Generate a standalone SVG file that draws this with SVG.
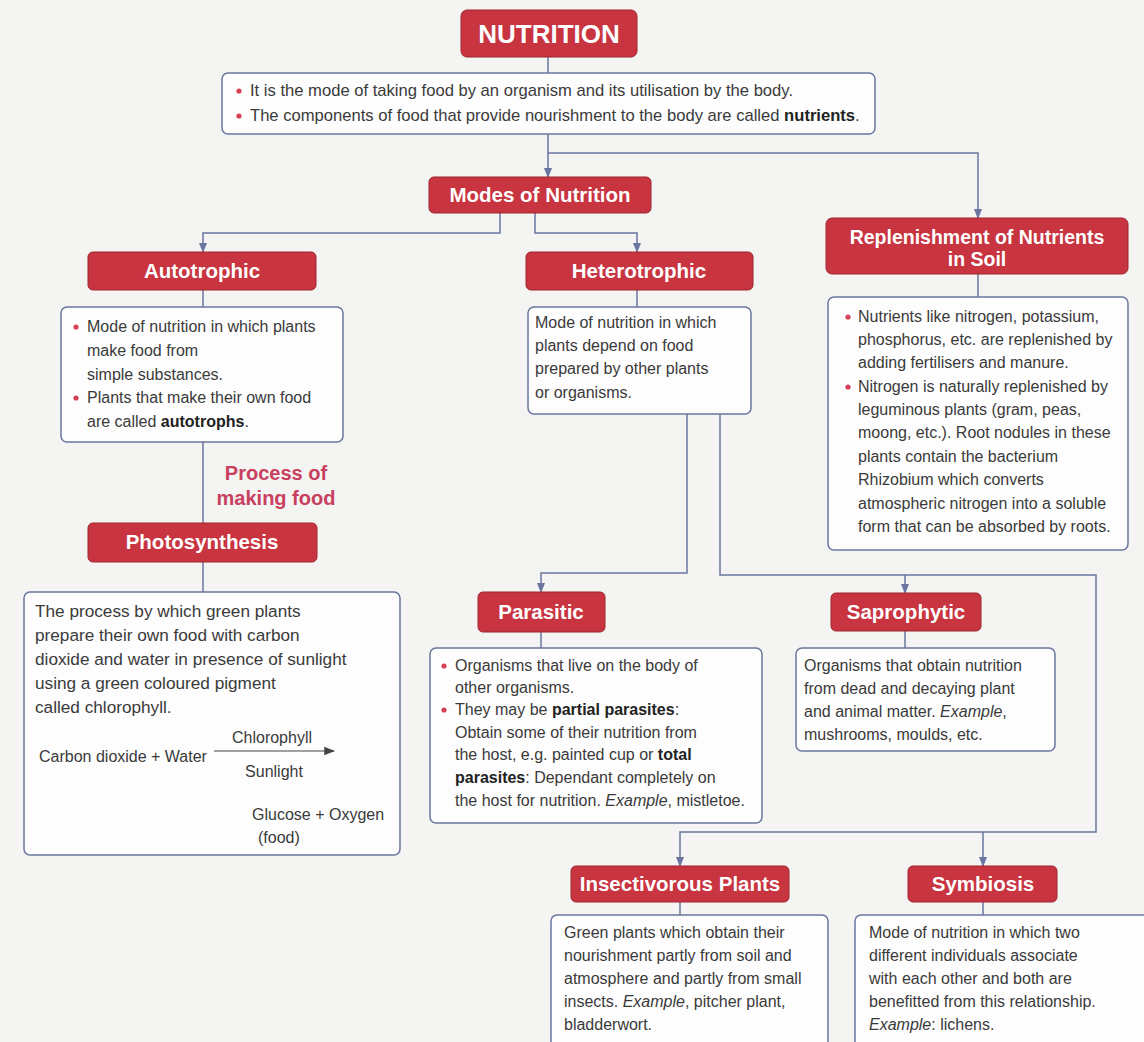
<svg xmlns="http://www.w3.org/2000/svg" width="1144" height="1042" viewBox="0 0 1144 1042">
<defs>
<style>
.hd{fill:#c8343f;stroke:#9e2630;stroke-width:1}
.ht{font-family:"Liberation Sans",Arial,sans-serif;font-weight:bold;fill:#fff;font-size:20.5px;text-anchor:middle}
.bx{fill:#fdfdfd;stroke:#6b76a0;stroke-width:1.5}
.t{font-family:"Liberation Sans",Arial,sans-serif;font-size:16px;fill:#3a3a3a}
.c{fill:none;stroke:#6b76a0;stroke-width:1.5}
.bl{fill:#d8405a}
.b{font-weight:bold;fill:#222}
.i{font-style:italic}
.pm{font-family:"Liberation Sans",Arial,sans-serif;font-weight:bold;fill:#c8405e;font-size:20px;text-anchor:middle}
</style>
<marker id="ar" viewBox="0 0 10 10" refX="9" refY="5" markerWidth="7" markerHeight="7" orient="auto"><path d="M0,1 L10,5 L0,9 Z" fill="#6b76a0"/></marker>
<marker id="ar2" viewBox="0 0 10 10" refX="9" refY="5" markerWidth="9" markerHeight="9" orient="auto"><path d="M0,1 L10,5 L0,9 Z" fill="#444"/></marker>
</defs>
<rect width="1144" height="1042" fill="#f4f4f2"/>

<g id="connectors">
<path class="c" d="M548,57 V73"/>
<path class="c" d="M548,134 V177" marker-end="url(#ar)"/>
<path class="c" d="M548,153 H978 V218" marker-end="url(#ar)"/>
<path class="c" d="M500,213 V233 H203 V252" marker-end="url(#ar)"/>
<path class="c" d="M535,213 V233 H637 V252" marker-end="url(#ar)"/>
<path class="c" d="M203,290 V307"/>
<path class="c" d="M203,442 V523"/>
<path class="c" d="M203,562 V592"/>
<path class="c" d="M637,290 V307"/>
<path class="c" d="M978,274 V297"/>
<path class="c" d="M687,414 V573 H541 V592" marker-end="url(#ar)"/>
<path class="c" d="M720,414 V575 H1096 V832 H680 V866" marker-end="url(#ar)"/>
<path class="c" d="M905,575 V593" marker-end="url(#ar)"/>
<path class="c" d="M983,832 V866" marker-end="url(#ar)"/>
<path class="c" d="M541,632 V648"/>
<path class="c" d="M905,630 V648"/>
<path class="c" d="M680,902 V915"/>
<path class="c" d="M983,902 V915"/>
</g>

<g id="nutrition">
<rect class="hd" x="461" y="10" width="176" height="47" rx="6"/>
<text class="ht" x="549" y="43" style="font-size:26px">NUTRITION</text>
</g>

<g id="intro">
<rect class="bx" x="222" y="73" width="653" height="61" rx="6"/>
<circle class="bl" cx="239" cy="91" r="2.6"/>
<circle class="bl" cx="239" cy="116" r="2.6"/>
<text class="t" x="250" y="96" style="font-size:16.6px">It is the mode of taking food by an organism and its utilisation by the body.</text>
<text class="t" x="250" y="121" style="font-size:16.6px">The components of food that provide nourishment to the body are called <tspan class="b">nutrients</tspan>.</text>
</g>

<g id="modes">
<rect class="hd" x="429" y="177" width="222" height="36" rx="5"/>
<text class="ht" x="540" y="202">Modes of Nutrition</text>
</g>

<g id="autotrophic">
<rect class="hd" x="88" y="252" width="228" height="38" rx="5"/>
<text class="ht" x="202" y="278">Autotrophic</text>
</g>

<g id="autotrophic-desc">
<rect class="bx" x="61" y="307" width="282" height="135" rx="6"/>
<circle class="bl" cx="76" cy="327" r="2.6"/>
<circle class="bl" cx="76" cy="398" r="2.6"/>
<text class="t" x="87" y="332">Mode of nutrition in which plants</text>
<text class="t" x="87" y="356">make food from</text>
<text class="t" x="87" y="380">simple substances.</text>
<text class="t" x="87" y="403">Plants that make their own food</text>
<text class="t" x="87" y="427">are called <tspan class="b">autotrophs</tspan>.</text>
</g>

<g id="process-label">
<text class="pm" x="276" y="480">Process of</text>
<text class="pm" x="276" y="505">making food</text>
</g>

<g id="photosynthesis">
<rect class="hd" x="88" y="523" width="229" height="39" rx="5"/>
<text class="ht" x="202" y="549">Photosynthesis</text>
</g>

<g id="photosynthesis-desc">
<rect class="bx" x="24" y="592" width="376" height="263" rx="6"/>
<text class="t" x="35" y="617" style="font-size:17.2px">The process by which green plants</text>
<text class="t" x="35" y="641" style="font-size:17.2px">prepare their own food with carbon</text>
<text class="t" x="35" y="665" style="font-size:17.2px">dioxide and water in presence of sunlight</text>
<text class="t" x="35" y="689" style="font-size:17.2px">using a green coloured pigment</text>
<text class="t" x="35" y="713" style="font-size:17.2px">called chlorophyll.</text>
<text class="t" x="39" y="762">Carbon dioxide + Water</text>
<text class="t" x="272" y="743" text-anchor="middle">Chlorophyll</text>
<path d="M214,751 H334" stroke="#444" stroke-width="1.2" marker-end="url(#ar2)"/>
<text class="t" x="274" y="777" text-anchor="middle">Sunlight</text>
<text class="t" x="252" y="820">Glucose + Oxygen</text>
<text class="t" x="258" y="843">(food)</text>
</g>

<g id="heterotrophic">
<rect class="hd" x="526" y="252" width="227" height="38" rx="5"/>
<text class="ht" x="639" y="278">Heterotrophic</text>
</g>

<g id="heterotrophic-desc">
<rect class="bx" x="528" y="307" width="223" height="107" rx="6"/>
<text class="t" x="535" y="328">Mode of nutrition in which</text>
<text class="t" x="535" y="351">plants depend on food</text>
<text class="t" x="535" y="374">prepared by other plants</text>
<text class="t" x="535" y="398">or organisms.</text>
</g>

<g id="replenishment">
<rect class="hd" x="826" y="218" width="302" height="56" rx="6"/>
<text class="ht" x="977" y="244" style="font-size:19.5px">Replenishment of Nutrients</text>
<text class="ht" x="977" y="266" style="font-size:19.5px">in Soil</text>
</g>

<g id="replenishment-desc">
<rect class="bx" x="828" y="297" width="300" height="253" rx="6"/>
<circle class="bl" cx="848" cy="317" r="2.6"/>
<circle class="bl" cx="848" cy="387" r="2.6"/>
<text class="t" x="858" y="322">Nutrients like nitrogen, potassium,</text>
<text class="t" x="858" y="345">phosphorus, etc. are replenished by</text>
<text class="t" x="858" y="368">adding fertilisers and manure.</text>
<text class="t" x="858" y="392">Nitrogen is naturally replenished by</text>
<text class="t" x="858" y="415">leguminous plants (gram, peas,</text>
<text class="t" x="858" y="438">moong, etc.). Root nodules in these</text>
<text class="t" x="858" y="462">plants contain the bacterium</text>
<text class="t" x="858" y="485">Rhizobium which converts</text>
<text class="t" x="858" y="509">atmospheric nitrogen into a soluble</text>
<text class="t" x="858" y="532">form that can be absorbed by roots.</text>
</g>

<g id="parasitic">
<rect class="hd" x="478" y="592" width="127" height="40" rx="5"/>
<text class="ht" x="541" y="619">Parasitic</text>
</g>

<g id="parasitic-desc">
<rect class="bx" x="430" y="648" width="332" height="175" rx="6"/>
<circle class="bl" cx="444" cy="666" r="2.6"/>
<circle class="bl" cx="444" cy="710" r="2.6"/>
<text class="t" x="455" y="671">Organisms that live on the body of</text>
<text class="t" x="455" y="693">other organisms.</text>
<text class="t" x="455" y="715">They may be <tspan class="b">partial parasites</tspan>:</text>
<text class="t" x="455" y="738">Obtain some of their nutrition from</text>
<text class="t" x="455" y="760">the host, e.g. painted cup or <tspan class="b">total</tspan></text>
<text class="t" x="455" y="783"><tspan class="b">parasites</tspan>: Dependant completely on</text>
<text class="t" x="455" y="806">the host for nutrition. <tspan class="i">Example</tspan>, mistletoe.</text>
</g>

<g id="saprophytic">
<rect class="hd" x="831" y="593" width="150" height="38" rx="5"/>
<text class="ht" x="906" y="619">Saprophytic</text>
</g>

<g id="saprophytic-desc">
<rect class="bx" x="796" y="648" width="259" height="103" rx="6"/>
<text class="t" x="804" y="671">Organisms that obtain nutrition</text>
<text class="t" x="804" y="694">from dead and decaying plant</text>
<text class="t" x="804" y="717">and animal matter. <tspan class="i">Example</tspan>,</text>
<text class="t" x="804" y="740">mushrooms, moulds, etc.</text>
</g>

<g id="insectivorous">
<rect class="hd" x="571" y="866" width="218" height="36" rx="5"/>
<text class="ht" x="680" y="891">Insectivorous Plants</text>
</g>

<g id="insectivorous-desc">
<rect class="bx" x="551" y="915" width="277" height="140" rx="6"/>
<text class="t" x="564" y="938">Green plants which obtain their</text>
<text class="t" x="564" y="961">nourishment partly from soil and</text>
<text class="t" x="564" y="984">atmosphere and partly from small</text>
<text class="t" x="564" y="1007">insects. <tspan class="i">Example</tspan>, pitcher plant,</text>
<text class="t" x="564" y="1030">bladderwort.</text>
</g>

<g id="symbiosis">
<rect class="hd" x="908" y="866" width="149" height="36" rx="5"/>
<text class="ht" x="983" y="891">Symbiosis</text>
</g>

<g id="symbiosis-desc">
<rect class="bx" x="855" y="915" width="300" height="140" rx="6"/>
<text class="t" x="869" y="938">Mode of nutrition in which two</text>
<text class="t" x="869" y="961">different individuals associate</text>
<text class="t" x="869" y="984">with each other and both are</text>
<text class="t" x="869" y="1007">benefitted from this relationship.</text>
<text class="t" x="869" y="1030"><tspan class="i">Example</tspan>: lichens.</text>
</g>
</svg>
